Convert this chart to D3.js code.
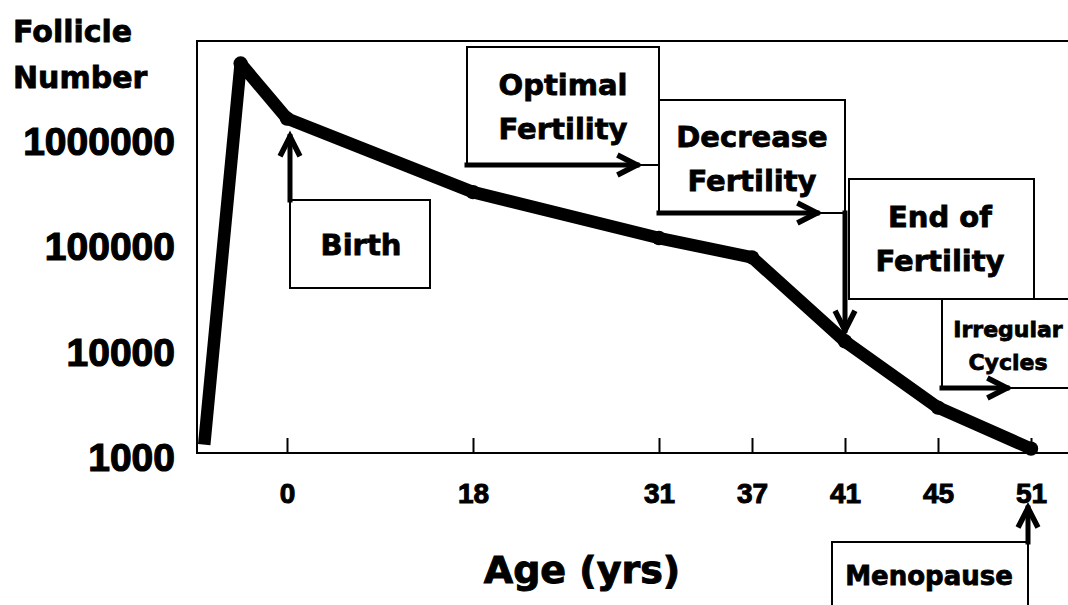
<!DOCTYPE html>
<html>
<head>
<meta charset="utf-8">
<script src="https://cdn.jsdelivr.net/npm/d3@7"></script>
<style>
  html, body { margin: 0; padding: 0; background: #fff; }
  svg { display: block; }
</style>
</head>
<body>
<svg id="chart" width="1068" height="605"></svg>
<script>
// ---------- data ----------
const ageTicks = [0, 18, 31, 37, 41, 45, 51];
const yTicks = [1000, 10000, 100000, 1000000];
const curveAge = [-0.75, -0.42, 0, 18, 31, 37, 41, 45, 51];
const curveFollicles = [1200, 5000000, 1500000, 300000, 110000, 72000, 11500, 2700, 1100];
const yTitle = ["Follicle", "Number"];
const xTitle = "Age (yrs)";

// ---------- layout ----------
const W = 1068, H = 605;
const frameLeft = 197, frameTop = 41, axisY = 453;
const origin = 287, step = 93;
const slotOf = [-0.89, 0, 2, 4, 5, 6, 7, 8];   // horizontal slots of [-0.75, ...ageTicks]

const svg = d3.select("#chart");
svg.append("rect").attr("width", W).attr("height", H).attr("fill", "#fff");

const x = d3.scaleLinear()
  .domain([-0.75, ...ageTicks])
  .range(slotOf.map(s => origin + s * step));
const y = d3.scaleLog().domain([1000, 1e7]).range([axisY, axisY - 4 * 105.3]);

const wordFont = "'DejaVu Sans', sans-serif";
const numFont = "'Liberation Sans', Arial, sans-serif";

// frame
svg.append("path")
  .attr("d", `M${W},${frameTop}H${frameLeft}V${axisY}H${W}`)
  .attr("fill", "none").attr("stroke", "#000").attr("stroke-width", 2);

// x axis
const gx = svg.append("g").attr("transform", `translate(0,${axisY})`)
  .call(d3.axisBottom(x).tickValues(ageTicks).tickSize(-15).tickPadding(30).tickFormat(d3.format("d")));
gx.select(".domain").remove();
gx.selectAll(".tick line").attr("stroke", "#000").attr("stroke-width", 2);
gx.selectAll(".tick text")
  .attr("font-family", numFont).attr("font-weight", "bold").attr("font-size", 28)
  .attr("fill", "#000").attr("stroke", "#000").attr("stroke-width", 1);

// y axis
const gy = svg.append("g").attr("transform", `translate(${frameLeft},0)`)
  .call(d3.axisLeft(y).tickValues(yTicks).tickSize(0).tickPadding(22).tickFormat(d3.format("d")));
gy.select(".domain").remove();
gy.selectAll(".tick text")
  .attr("dy", "0.45em")
  .attr("font-family", numFont).attr("font-weight", "bold").attr("font-size", 39)
  .attr("fill", "#000").attr("stroke", "#000").attr("stroke-width", 1.2);

// axis titles
const yt = svg.append("g");
yTitle.forEach((t, i) => {
  yt.append("text").attr("x", 13).attr("y", 42 + i * 46)
    .attr("font-family", wordFont).attr("font-weight", "bold").attr("font-size", 30)
    .attr("fill", "#000").attr("stroke", "#000").attr("stroke-width", 0.8).text(t);
});
svg.append("text").attr("x", 582).attr("y", 583).attr("text-anchor", "middle")
  .attr("font-family", wordFont).attr("font-weight", "bold").attr("font-size", 38)
  .attr("fill", "#000").attr("stroke", "#000").attr("stroke-width", 1).text(xTitle);

// curve
const pts = curveAge.map((a, i) => [x(a), y(curveFollicles[i])]);
svg.append("path")
  .attr("d", d3.line()(pts))
  .attr("fill", "none").attr("stroke", "#000").attr("stroke-width", 12.5)
  .attr("stroke-linejoin", "round").attr("stroke-linecap", "butt");
svg.selectAll("circle.pt").data(pts.slice(1)).join("circle")
  .attr("class", "pt").attr("cx", d => d[0]).attr("cy", d => d[1]).attr("r", 7.2).attr("fill", "#000");

// ---------- annotations ----------
const ann = svg.append("g");
function line(x1, y1, x2, y2, w) {
  ann.append("line").attr("x1", x1).attr("y1", y1).attr("x2", x2).attr("y2", y2)
    .attr("stroke", "#000").attr("stroke-width", w).attr("stroke-linecap", "square");
}
function arrow(x1, y1, x2, y2) {
  line(x1, y1, x2, y2, 5);
  const ang = Math.atan2(y2 - y1, x2 - x1), L = 22, a = 0.47;
  const p1 = [x2 - L * Math.cos(ang - a), y2 - L * Math.sin(ang - a)];
  const p2 = [x2 - L * Math.cos(ang + a), y2 - L * Math.sin(ang + a)];
  ann.append("path").attr("d", `M${p1}L${x2},${y2}L${p2}`)
    .attr("fill", "none").attr("stroke", "#000").attr("stroke-width", 5.5)
    .attr("stroke-linejoin", "miter").attr("stroke-linecap", "butt");
}
function label(lines, cx, baselines, size) {
  lines.forEach((t, i) => {
    ann.append("text").attr("x", cx).attr("y", baselines[i]).attr("text-anchor", "middle")
      .attr("font-family", wordFont).attr("font-weight", "bold").attr("font-size", size)
      .attr("fill", "#000").attr("stroke", "#000").attr("stroke-width", 0.8).text(t);
  });
}

// Birth
const bx = x(0) + 3, byTip = y(curveFollicles[2]) + 18;
line(bx, 200, 430, 200, 2); line(430, 200, 430, 288, 2); line(430, 288, bx, 288, 2); line(bx, 288, bx, 200, 2);
arrow(bx, 200, bx, byTip);
label(["Birth"], 361, [255], 29);

// Optimal Fertility
const oL = x(18) - 6, oR = x(31);
line(oL, 47, oR, 47, 2); line(oR, 47, oR, 165, 2); line(oL, 47, oL, 165, 2);
line(637, 165, oR, 165, 2);
arrow(oL, 165, 637, 165);
label(["Optimal", "Fertility"], 563, [95, 139], 29);

// Decrease Fertility
const dL = x(31), dR = x(41);
line(dL, 100, dR, 100, 2); line(dR, 100, dR, 213, 2); line(dL, 100, dL, 213, 2);
line(817, 213, dR, 213, 2);
arrow(dL, 213, 817, 213);
label(["Decrease", "Fertility"], 752, [147, 191], 29);

// End of Fertility
const eL = x(41) + 4, eR = x(51) + 3;
line(eL, 179, eR, 179, 2); line(eR, 179, eR, 299, 2); line(eL, 179, eL, 299, 2);
line(eL, 299, W, 299, 2);
arrow(x(41), 213, x(41), y(curveFollicles[6]) - 11);
label(["End of", "Fertility"], 940, [227, 271], 29);

// Irregular Cycles
const iL = x(45) + 4;
line(iL, 299, iL, 388, 2);
line(1007, 388, W, 388, 2);
arrow(iL, 388, 1007, 388);
label(["Irregular", "Cycles"], 1008, [337, 370], 22);

// Menopause
const mR = x(51) - 3;
line(832, 542, mR, 542, 2); line(832, 542, 832, H, 2); line(mR, 542, mR, H, 2);
arrow(mR, 542, mR, 508);
label(["Menopause"], 929, [585], 26);
</script>
</body>
</html>
